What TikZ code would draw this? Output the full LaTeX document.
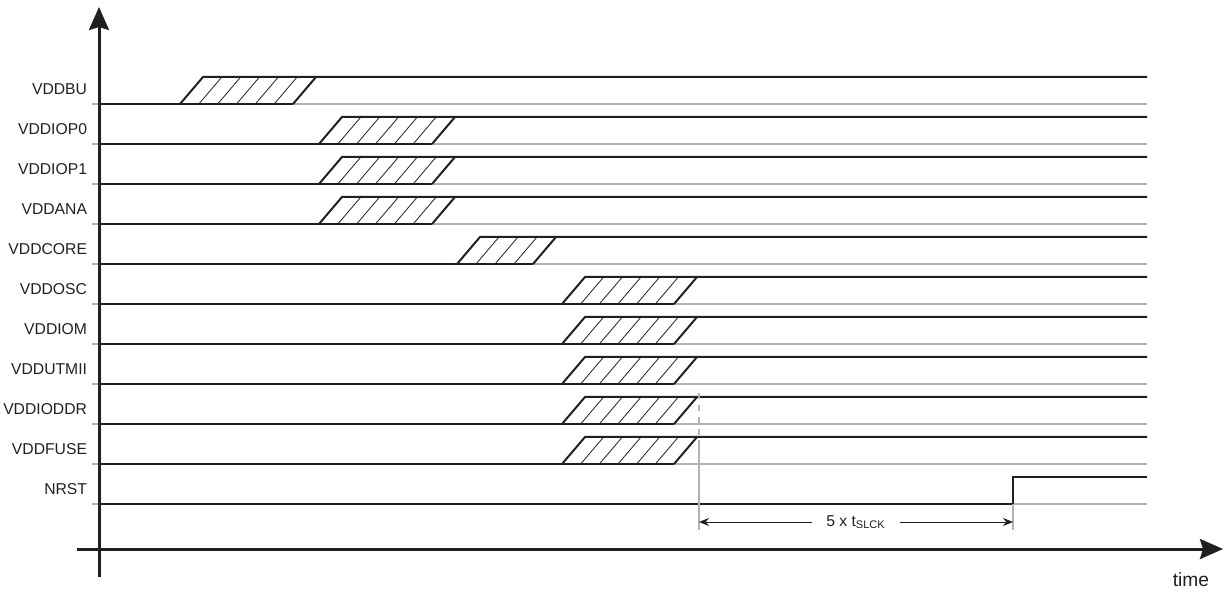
\documentclass[tikz,border=0pt]{standalone}
\usepackage{fontspec}
\setmainfont{Liberation Sans}
\usetikzlibrary{arrows.meta}
\definecolor{tdink}{RGB}{35,31,32}
\definecolor{tdgrid}{RGB}{178,178,178}

\begin{document}
\begin{tikzpicture}[x=0.5pt,y=-0.5pt,line width=1pt,>={Stealth[length=11.5pt,width=10pt,inset=1.5pt]},
  sig/.style={tdink,line width=1pt},
  grid/.style={tdgrid,line width=0.8pt},
  hatch/.style={tdink,line width=0.4pt},
  lbl/.style={anchor=east,inner sep=0pt,text=tdink,font=\fontsize{7.85}{9}\selectfont}]
  \useasboundingbox (0,0) rectangle (1225,592);
  % supply rails: label / foot of the ramp / ramp width / hatch gaps
  \foreach \lab/\bl/\w/\n [count=\k] in {VDDBU/180/113/6,VDDIOP0/319/113/6,VDDIOP1/319/113/6,
      VDDANA/319/113/6,VDDCORE/457/76/4,VDDOSC/562/112/6,VDDIOM/562/112/6,
      VDDUTMII/562/112/6,VDDIODDR/562/112/6,VDDFUSE/562/112/6}{
    \pgfmathsetmacro{\yb}{64+40*\k}
    \pgfmathsetmacro{\yh}{\yb-27}
    \pgfmathtruncatemacro{\m}{\n-1}
    \node[lbl] (l\k) at (88,\yb-15) {\lab};
    \draw[grid] (92,\yb) -- (1147,\yb);
    \draw[sig] (99,\yb) -- (\bl+\w,\yb);
    \draw[sig] (\bl,\yb) -- (\bl+23,\yh) -- (1147,\yh);
    \draw[sig] (\bl+\w,\yb) -- (\bl+\w+23,\yh);
    \foreach \i in {1,...,\m}
      \draw[hatch] (\bl+\i*\w/\n,\yb) -- (\bl+\i*\w/\n+23,\yh);
  }
  % reset
  \node[lbl] (l11) at (88,489) {NRST};
  \coordinate (R) at (1013,504);
  \draw[grid] (92,504) -- (1147,504);
  \draw[sig] (99,504) -- (R) -- (1013,477) -- (1147,477);
  % delay
  \coordinate (A) at (699,522);
  \coordinate (B) at (1013,522);
  \draw[tdgrid,line width=0.6pt,dashed] (699,393) -- (699,440);
  \draw[tdgrid,line width=0.6pt] (699,440) -- (A) -- ++(0,8);
  \draw[tdgrid,line width=0.6pt] (R) -- (B) -- ++(0,8);
  \draw[tdink,line width=0.5pt,{Stealth[length=5pt,width=4pt]}-{Stealth[length=5pt,width=4pt]}] (A) -- node[fill=white,inner xsep=7pt,inner ysep=1pt,text=tdink,font=\fontsize{7.85}{9}\selectfont] (d) {5 x t\textsubscript{SLCK}} (B);
  % axes
  \coordinate (Yb) at (99,577);
  \coordinate (Yt) at (99,7);
  \coordinate (Xl) at (77,549);
  \coordinate (Xr) at (1223,549);
  \draw[tdink,line width=1.5pt,->] (Yb) -- (Yt);
  \draw[tdink,line width=1.5pt,->] (Xl) -- (Xr);
  \node[text=tdink,font=\fontsize{9.6}{11}\selectfont] (t) at (1191,580) {time};
\end{tikzpicture}
\end{document}
